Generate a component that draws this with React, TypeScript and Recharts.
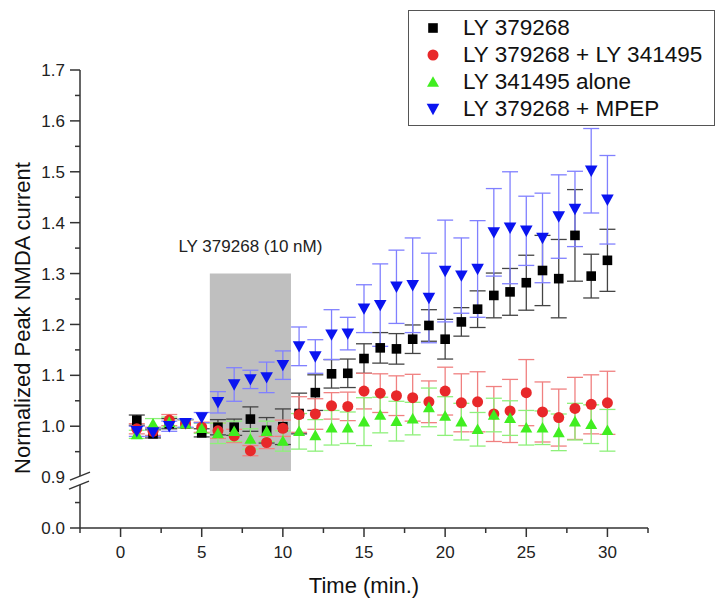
import React from 'react';
import { ScatterChart, Scatter, XAxis, YAxis, ErrorBar, ReferenceArea, Legend } from 'recharts';

const times = [1, 2, 3, 4, 5, 6, 7, 8, 9, 10, 11, 12, 13, 14, 15, 16, 17, 18, 19, 20, 21, 22, 23, 24, 25, 26, 27, 28, 29, 30];

const lyVals = [1.012, 0.985, 1.005, 1.005, 0.987, 0.998, 0.998, 1.014, 0.992, 0.999, 1.025, 1.066, 1.103, 1.104, 1.133, 1.154, 1.152, 1.171, 1.198, 1.171, 1.205, 1.23, 1.257, 1.264, 1.282, 1.306, 1.29, 1.375, 1.295, 1.326];
const lyErr = [0.01, 0.008, 0.01, 0.008, 0.008, 0.015, 0.016, 0.024, 0.025, 0.035, 0.04, 0.035, 0.028, 0.028, 0.029, 0.03, 0.03, 0.028, 0.031, 0.039, 0.028, 0.036, 0.044, 0.046, 0.054, 0.069, 0.077, 0.09, 0.043, 0.061];

const comboVals = [0.995, 0.99, 1.012, 1.005, 0.998, 0.991, 0.981, 0.952, 0.968, 0.996, 1.023, 1.024, 1.04, 1.039, 1.069, 1.065, 1.06, 1.056, 1.048, 1.069, 1.046, 1.048, 1.024, 1.03, 1.066, 1.028, 1.017, 1.035, 1.043, 1.046];
const comboErr = [0.01, 0.008, 0.011, 0.008, 0.01, 0.015, 0.013, 0.01, 0.012, 0.016, 0.035, 0.03, 0.026, 0.028, 0.035, 0.038, 0.039, 0.046, 0.041, 0.047, 0.057, 0.059, 0.054, 0.062, 0.065, 0.059, 0.056, 0.061, 0.058, 0.062];

const aloneVals = [0.984, 1.005, 1.008, 1.005, 0.996, 0.986, 0.99, 0.975, 0.99, 0.971, 0.99, 0.982, 0.997, 0.997, 1.009, 1.022, 1.01, 1.015, 1.037, 1.02, 1.009, 0.994, 1.022, 1.016, 0.997, 0.997, 0.988, 1.009, 1.004, 0.992];
const aloneErr = [0.008, 0.01, 0.01, 0.008, 0.01, 0.02, 0.02, 0.02, 0.02, 0.02, 0.035, 0.031, 0.034, 0.031, 0.047, 0.035, 0.039, 0.032, 0.038, 0.038, 0.036, 0.033, 0.033, 0.034, 0.034, 0.033, 0.036, 0.036, 0.038, 0.041];

const mpepVals = [0.99, 0.988, 1.0, 1.006, 1.017, 1.047, 1.082, 1.092, 1.096, 1.12, 1.157, 1.137, 1.18, 1.182, 1.231, 1.238, 1.274, 1.277, 1.252, 1.305, 1.296, 1.309, 1.381, 1.39, 1.384, 1.37, 1.412, 1.427, 1.502, 1.445];
const mpepErr = [0.01, 0.008, 0.01, 0.008, 0.01, 0.021, 0.033, 0.018, 0.03, 0.028, 0.038, 0.033, 0.049, 0.032, 0.047, 0.081, 0.072, 0.093, 0.088, 0.1, 0.074, 0.095, 0.086, 0.11, 0.068, 0.088, 0.082, 0.074, 0.083, 0.087];

const seriesNames = ['LY 379268', 'LY 379268 + LY 341495', 'LY 341495 alone', 'LY 379268 + MPEP'];

// y tick values: 0.8 is the broken-axis slot that is labelled "0.0"
const yMajorTicks = [0.8, 0.9, 1.0, 1.1, 1.2, 1.3, 1.4, 1.5, 1.6, 1.7];
const yMajorLabels = ['0.0', '0.9', '1.0', '1.1', '1.2', '1.3', '1.4', '1.5', '1.6', '1.7'];
const yMinorTicks = [0.85, 0.95, 1.05, 1.15, 1.25, 1.35, 1.45, 1.55, 1.65];
const xMajorTicks = [0, 5, 10, 15, 20, 25, 30];
const xMinorTicks = [-2.5, 2.5, 7.5, 12.5, 17.5, 22.5, 27.5, 32.5];

const treatmentLabel = 'LY 379268 (10 nM)';
const treatmentStart = 5.5;
const treatmentEnd = 10.5;
const treatmentLow = 0.912;
const treatmentHigh = 1.3;

const build = (vals: number[], errs: number[]) => times.map((t, i) => ({ x: t, y: vals[i], err: errs[i] }));
const lyData = build(lyVals, lyErr);
const comboData = build(comboVals, comboErr);
const aloneData = build(aloneVals, aloneErr);
const mpepData = build(mpepVals, mpepErr);

const FONT = '"Liberation Sans", Arial, Helvetica, sans-serif';
const AXIS = '#333';

const COLORS = ['#000000', '#e8282a', '#40ee20', '#0a14f0'];
const ERR_COLORS = ['#444444', '#f08080', '#8ef07a', '#8080ff'];

const Square = (p: any) => <rect x={p.cx - 4.8} y={p.cy - 4.8} width={9.6} height={9.6} fill={COLORS[0]} />;
const Circle = (p: any) => <circle cx={p.cx} cy={p.cy} r={5.5} fill={COLORS[1]} />;
const UpTri = (p: any) => (
  <polygon points={`${p.cx - 6},${p.cy + 4.8} ${p.cx + 6},${p.cy + 4.8} ${p.cx},${p.cy - 5.8}`} fill={COLORS[2]} />
);
const DownTri = (p: any) => (
  <polygon points={`${p.cx - 6.3},${p.cy - 5.2} ${p.cx + 6.3},${p.cy - 5.2} ${p.cx},${p.cy + 6.2}`} fill={COLORS[3]} />
);
const SHAPES = [Square, Circle, UpTri, DownTri];

const keyOf = (v: number) => v.toFixed(2);
const yMajorSet = new Map(yMajorTicks.map((v, i) => [keyOf(v), yMajorLabels[i]]));
const xMajorSet = new Set(xMajorTicks.map(keyOf));

const YTick = (p: any) => {
  const v = p.payload.value as number;
  const ax = p.x;
  const y = p.y;
  const label = yMajorSet.get(keyOf(v));
  if (label === undefined) {
    return <line x1={ax - 5} x2={ax} y1={y} y2={y} stroke={AXIS} strokeWidth={1.5} />;
  }
  const isBreak = keyOf(v) === '0.90';
  return (
    <g>
      {!isBreak && <line x1={ax - 10} x2={ax} y1={y} y2={y} stroke={AXIS} strokeWidth={1.5} />}
      {isBreak && (
        <g>
          <polygon points={`${ax - 10},${y + 3} ${ax + 10},${y - 5} ${ax + 9},${y + 4} ${ax - 11},${y + 12}`} fill="#fff" />
          <line x1={ax - 10} y1={y + 3} x2={ax + 10} y2={y - 5} stroke={AXIS} strokeWidth={1.5} />
          <line x1={ax - 11} y1={y + 12} x2={ax + 9} y2={y + 4} stroke={AXIS} strokeWidth={1.5} />
        </g>
      )}
      <text x={ax - 15} y={y} dy="0.36em" textAnchor="end" fontSize={17} fill="#222" fontFamily={FONT}>
        {label}
      </text>
    </g>
  );
};

const XTick = (p: any) => {
  const v = p.payload.value as number;
  const ay = p.y;
  const x = p.x;
  if (!xMajorSet.has(keyOf(v))) {
    return <line x1={x} x2={x} y1={ay} y2={ay + 5} stroke={AXIS} strokeWidth={1.5} />;
  }
  return (
    <g>
      <line x1={x} x2={x} y1={ay} y2={ay + 9} stroke={AXIS} strokeWidth={1.5} />
      <text x={x} y={ay + 30} textAnchor="middle" fontSize={17} fill="#222" fontFamily={FONT}>
        {String(v)}
      </text>
    </g>
  );
};

const YTitle = (p: any) => {
  const vb = p.viewBox || { x: 0, y: 70, width: 80, height: 458 };
  const cx = vb.x + 30;
  const cy = vb.y + vb.height / 2 + 19;
  return (
    <text x={cx} y={cy} transform={`rotate(-90, ${cx}, ${cy})`} textAnchor="middle" fontSize={22} fill="#111" fontFamily={FONT}>
      Normalized Peak NMDA current
    </text>
  );
};

const XTitle = (p: any) => {
  const vb = p.viewBox || { x: 80, y: 528, width: 568, height: 60 };
  return (
    <text x={vb.x + vb.width / 2} y={vb.y + 65} textAnchor="middle" fontSize={22} fill="#111" fontFamily={FONT}>
      Time (min.)
    </text>
  );
};

const LegendMarker = ({ i }: { i: number }) => {
  const S = SHAPES[i];
  return (
    <svg width={16} height={16} style={{ display: 'block' }}>
      <S cx={8} cy={8} />
    </svg>
  );
};

const LegendBox = () => (
  <div
    style={{
      width: 307,
      height: 116,
      boxSizing: 'border-box',
      border: '1.5px solid #555',
      background: '#fff',
      fontFamily: FONT,
      fontSize: 22.5,
      color: '#111',
      paddingTop: 3,
    }}
  >
    {seriesNames.map((n, i) => (
      <div key={n} style={{ display: 'flex', alignItems: 'center', height: 27, lineHeight: '27px' }}>
        <div style={{ width: 16, marginLeft: 16, marginRight: 22 }}>
          <LegendMarker i={i} />
        </div>
        <span>{n}</span>
      </div>
    ))}
  </div>
);

const seriesData = [lyData, comboData, aloneData, mpepData];

export default function App() {
  return (
    <div style={{ position: 'absolute', left: 0, top: 0, background: '#fff' }}>
      <ScatterChart width={724} height={603} margin={{ top: 70, right: 76, bottom: 15, left: 0 }}>
        <XAxis
          type="number"
          dataKey="x"
          domain={[-2.5, 32.5]}
          ticks={[...xMinorTicks, ...xMajorTicks].sort((a, b) => a - b)}
          interval={0}
          allowDataOverflow
          height={60}
          tickSize={0}
          tickMargin={0}
          tickLine={false}
          tick={(p: any) => <XTick {...p} />}
          axisLine={{ stroke: AXIS, strokeWidth: 1.5 }}
          label={<XTitle />}
        />
        <YAxis
          type="number"
          dataKey="y"
          domain={[0.8, 1.7]}
          ticks={[...yMinorTicks, ...yMajorTicks].sort((a, b) => a - b)}
          interval={0}
          allowDataOverflow
          width={80}
          tickSize={0}
          tickMargin={0}
          tickLine={false}
          tick={(p: any) => <YTick {...p} />}
          axisLine={{ stroke: AXIS, strokeWidth: 1.5 }}
          label={<YTitle />}
        />
        <ReferenceArea
          x1={treatmentStart}
          x2={treatmentEnd}
          y1={treatmentLow}
          y2={treatmentHigh}
          fill="#bfbfbf"
          fillOpacity={1}
          stroke="none"
          label={{ value: treatmentLabel, position: 'top', offset: 22, fontSize: 17, fill: '#222', fontFamily: FONT }}
        />
        {seriesData.map((d, i) => (
          <Scatter
            key={seriesNames[i]}
            name={seriesNames[i]}
            data={d}
            fill={COLORS[i]}
            shape={SHAPES[i] as any}
            isAnimationActive={false}
          >
            <ErrorBar dataKey="err" direction="y" width={8} stroke={ERR_COLORS[i]} strokeWidth={1.3} isAnimationActive={false} />
          </Scatter>
        ))}
        <Legend
          layout="vertical"
          align="center"
          verticalAlign="middle"
          wrapperStyle={{ position: 'absolute', left: 408, top: 10, width: 307, height: 116 }}
          content={() => <LegendBox />}
        />
      </ScatterChart>
    </div>
  );
}
